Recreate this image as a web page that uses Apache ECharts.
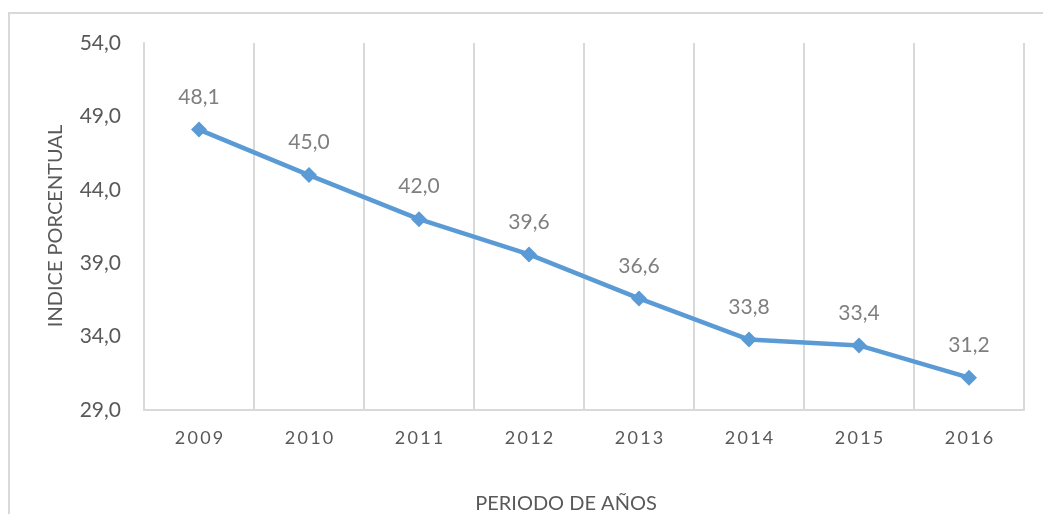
<!DOCTYPE html>
<html>
<head>
<meta charset="utf-8">
<script src="https://cdn.jsdelivr.net/npm/echarts@6/dist/echarts.min.js"></script>
<style>
  html, body { margin: 0; padding: 0; background: #fff; }
  #chart { width: 1043px; height: 514px; }
</style>
</head>
<body>
<div id="chart"></div>
<script>
// valores
const years = ['2009', '2010', '2011', '2012', '2013', '2014', '2015', '2016'];
const indice = [48.1, 45.0, 42.0, 39.6, 36.6, 33.8, 33.4, 31.2];
const yMin = 29;
const yMax = 54;
const yStep = 5;

const coma = v => v.toFixed(1).replace('.', ',');

const myChart = echarts.init(document.getElementById('chart'));
const option = {
    backgroundColor: '#ffffff',
    textStyle: { fontFamily: 'Lato, "Open Sans", sans-serif' },
    graphic: [
        {
            type: 'rect',
            silent: true,
            shape: { x: 9, y: 13, width: 1200, height: 700 },
            style: { fill: 'none', stroke: '#d9d9d9', lineWidth: 2 }
        },
        {
            // titulo del eje vertical
            type: 'text',
            silent: true,
            x: 56,
            y: 226,
            rotation: Math.PI / 2,
            style: {
                text: 'INDICE PORCENTUAL',
                fill: '#595959',
                font: '20px Lato, "Open Sans", sans-serif',
                align: 'center',
                verticalAlign: 'middle'
            }
        }
    ],
    grid: { left: 144, right: 19, top: 43, bottom: 104, containLabel: false, outerBoundsMode: 'none' },
    xAxis: {
        type: 'category',
        data: years,
        boundaryGap: true,
        name: 'PERIODO DE AÑOS',
        nameLocation: 'middle',
        nameGap: 84,
        nameMoveOverlap: false,
        nameTextStyle: { color: '#595959', fontSize: 20, padding: [0, 36, 0, 0] },
        axisLine: { show: true, lineStyle: { color: '#d9d9d9', width: 2 } },
        axisTick: { show: false },
        axisLabel: {
            color: '#595959',
            fontSize: 18,
            margin: 19,
            formatter: v => v.split('').join('\u2009')
        },
        splitLine: { show: true, lineStyle: { color: '#d9d9d9', width: 2 } }
    },
    yAxis: {
        type: 'value',
        min: yMin,
        max: yMax,
        interval: yStep,
        axisLine: { show: true, lineStyle: { color: '#d9d9d9', width: 2 } },
        axisTick: { show: false },
        axisLabel: { color: '#595959', fontSize: 21, margin: 23, formatter: coma },
        splitLine: { show: false }
    },
    series: [
        {
            type: 'line',
            data: indice,
            symbol: 'diamond',
            symbolSize: 16,
            itemStyle: { color: '#5b9bd5' },
            lineStyle: { color: '#5b9bd5', width: 4.5 },
            label: {
                show: true,
                position: 'top',
                distance: 14,
                color: '#7f7f7f',
                fontSize: 21,
                formatter: p => coma(p.value)
            },
            animation: false
        }
    ],
    animation: false
};
option && myChart.setOption(option);
</script>
</body>
</html>
